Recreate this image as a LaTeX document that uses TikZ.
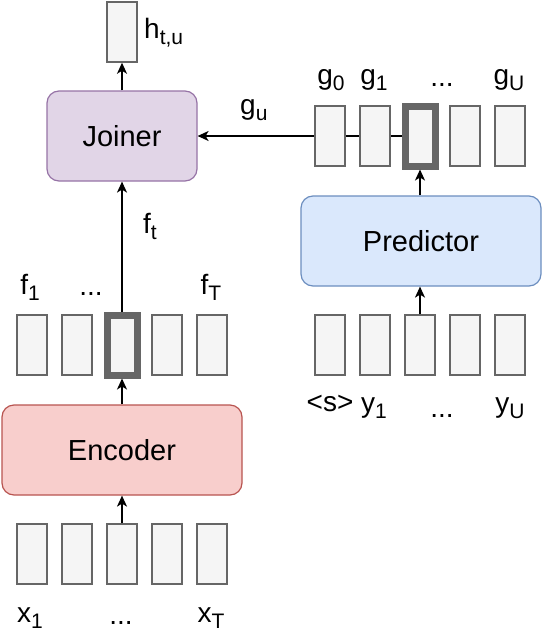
\documentclass[tikz,border=0pt]{standalone}
\usepackage{fontspec}
\setmainfont{Liberation Sans}
\usetikzlibrary{arrows.meta,positioning,backgrounds}

\definecolor{cellfill}{HTML}{F5F5F5}
\definecolor{cellline}{HTML}{666666}
\definecolor{joinfill}{HTML}{E1D5E7}
\definecolor{joinline}{HTML}{9673A6}
\definecolor{predfill}{HTML}{DAE8FC}
\definecolor{predline}{HTML}{6C8EBF}
\definecolor{encfill}{HTML}{F8CECC}
\definecolor{encline}{HTML}{B85450}

\newcommand{\lowsub}[1]{\raisebox{-6pt}{\fontsize{21}{21}\selectfont #1}}

\begin{document}
\begin{tikzpicture}[x=1pt, y=-1pt,
	font=\fontsize{28}{28}\selectfont,
	vec/.style={draw=cellline, fill=cellfill, line width=1.5pt, minimum width=30pt, minimum height=60pt, inner sep=0pt},
	pick/.style={vec, line width=7pt},
	block/.style={rounded corners=12pt, line width=1.2pt, minimum height=90pt, inner sep=0pt, font=\fontsize{29}{29}\selectfont},
	lab/.style={inner sep=0pt, anchor=base},
	flow/.style={line width=1.5pt, -{Stealth[length=11pt, width=10pt, inset=3pt]}}]

	\useasboundingbox (0,0) rectangle (550,637);

	\foreach \i/\x in {1/32, 2/77, 3/122, 4/167, 5/212}
		\node[vec] (x\i) at (\x,554) {};
	\foreach \i/\x/\s in {1/32/vec, 2/77/vec, 3/122/pick, 4/167/vec, 5/212/vec}
		\node[\s] (f\i) at (\x,345) {};
	\foreach \i/\x in {1/330, 2/375, 3/420, 4/465, 5/510}
		\node[vec] (y\i) at (\x,345) {};
	\foreach \i/\x/\s in {1/330/vec, 2/375/vec, 3/420/pick, 4/465/vec, 5/510/vec}
		\node[\s] (g\i) at (\x,136) {};
	\node[vec] (h) at (122,32) {};

	\node[block, draw=encline, fill=encfill, minimum width=240pt] (encoder) at (122,450) {Encoder};
	\node[block, draw=predline, fill=predfill, minimum width=240pt] (predictor) at (421,241) {Predictor};
	\node[block, draw=joinline, fill=joinfill, minimum width=150pt] (joiner) at (122,136) {Joiner};

	\draw[flow] (x3) -- (encoder);
	\draw[flow] (encoder) -- (f3);
	\draw[flow] (f3) -- (joiner);
	\draw[flow] (joiner) -- (h);
	\draw[flow] (y3) -- (y3 |- predictor.south);
	\draw[flow] (g3 |- predictor.north) -- (g3);
	\begin{scope}[on background layer]
		\draw[flow] (g3.west) -- (joiner.east);
	\end{scope}

	\node[lab, anchor=base west] (hlab) at (144,38) {h\lowsub{t,u}};
	\node[lab, anchor=base west] (gulab) at (240,114) {g\lowsub{u}};
	\node[lab, anchor=base west] (ftlab) at (143,233) {f\lowsub{t}};

	\node[lab] (x1lab) at (30,622) {x\lowsub{1}};
	\node[lab] (xdots) at (121,624) {...};
	\node[lab] (xTlab) at (211,622) {x\lowsub{T}};
	\node[lab] (f1lab) at (30,294) {f\lowsub{1}};
	\node[lab] (fdots) at (91,295) {...};
	\node[lab] (fTlab) at (211,294) {f\lowsub{T}};
	\node[lab] (slab) at (330,411) {<s>};
	\node[lab] (y1lab) at (374,412) {y\lowsub{1}};
	\node[lab] (ydots) at (442,417) {...};
	\node[lab] (yUlab) at (510,412) {y\lowsub{U}};
	\node[lab] (g0lab) at (331,84) {g\lowsub{0}};
	\node[lab] (g1lab) at (374,84) {g\lowsub{1}};
	\node[lab] (gdots) at (442,86) {...};
	\node[lab] (gUlab) at (509,84) {g\lowsub{U}};
\end{tikzpicture}
\end{document}
